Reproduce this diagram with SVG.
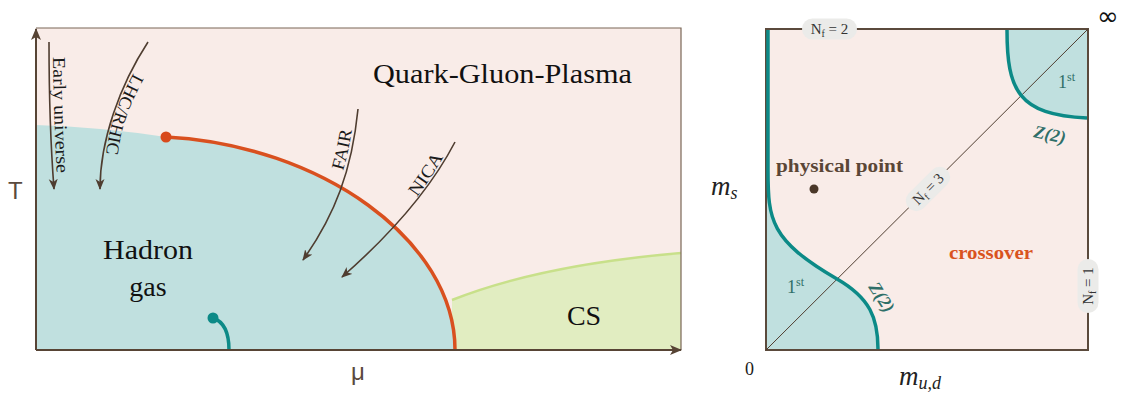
<svg xmlns="http://www.w3.org/2000/svg" width="1127" height="396" viewBox="0 0 1127 396">
<defs>
<style>
.lbl{font-family:"Liberation Serif","Times New Roman",serif;font-size:18px;fill:#1a1a1a;}
.big{font-family:"Liberation Serif","Times New Roman",serif;font-size:28px;fill:#111;}
.traj{fill:none;stroke:#4f3d30;stroke-width:1.6;marker-end:url(#ah);}
.axis{fill:none;stroke:#574435;stroke-width:2;marker-end:url(#ax);}
.pill{fill:#ebebe9;}
.nf{font-family:"Liberation Serif","Times New Roman",serif;font-size:15px;fill:#333;}
.sub{font-size:10px;}
.teal{fill:#c0e0df;}
.tealline{fill:none;stroke:#0c8a87;stroke-width:3.5;}
.tl{font-family:"Liberation Serif","Times New Roman",serif;fill:#2f6f68;}
.math{font-family:"Liberation Serif","Times New Roman",serif;font-style:italic;fill:#222;}
.sans{font-family:"Liberation Sans",Arial,sans-serif;fill:#5a4a3e;}
</style>
<marker id="ah" markerUnits="userSpaceOnUse" markerWidth="12" markerHeight="10" refX="10" refY="4.5" orient="auto"><path d="M0,0 L11,4.5 L0,9 L3,4.5 Z" fill="#4f3d30"/></marker>
<marker id="ax" markerUnits="userSpaceOnUse" markerWidth="13" markerHeight="11" refX="11" refY="5" orient="auto"><path d="M0,0 L12,5 L0,10 L3,5 Z" fill="#574435"/></marker>
<path id="pEU" d="M53,57 C53.5,100 55,140 57,180"/>
<path id="pLHC" d="M133.5,73 C120,98 108,125 105.5,160"/>
<path id="pFAIR" d="M343,171 Q349,150 352.5,126"/>
<path id="pNICA" d="M417,197 Q432,177 446,153"/>
</defs>

<g id="left-panel">
  <rect x="36" y="28" width="645" height="322" fill="#f9ece8"/>
  <path id="cs-region" d="M452,300 Q540,265 681,253 L681,350 L452,350 Z" fill="#e1edc1"/>
  <path id="hadron-region" class="teal" d="M36,125 Q100,127 166,137 C320,145 455,240 455,350 L36,350 Z"/>
  <path d="M452,300 Q540,265 681,253" fill="none" stroke="#c8e08a" stroke-width="2.5"/>
  <path d="M166,137 C320,145 455,240 455,350" fill="none" stroke="#d9501f" stroke-width="3.5"/>
  <circle cx="166" cy="137" r="5.5" fill="#d84a1c"/>
  <path d="M213,318 C225,322 229,335 229,350" class="tealline"/>
  <circle cx="213" cy="318" r="5.5" fill="#0c8a87"/>
  <path d="M36,28 L681,28 L681,350" fill="none" stroke="#7a6656" stroke-width="1.2"/>
  <line class="axis" x1="36" y1="350" x2="36" y2="29"/>
  <line class="axis" x1="36" y1="350" x2="681" y2="350"/>
  <text class="sans" x="8" y="199" font-size="24">T</text>
  <text class="sans" x="351" y="380" font-size="24">μ</text>
  <text class="big" x="373" y="83" textLength="259" lengthAdjust="spacingAndGlyphs">Quark-Gluon-Plasma</text>
  <text class="big" x="148" y="259" text-anchor="middle" textLength="90" lengthAdjust="spacingAndGlyphs">Hadron</text>
  <text class="big" x="148" y="296" text-anchor="middle">gas</text>
  <text class="big" x="584" y="325" text-anchor="middle">CS</text>
</g>

<g id="connectors">
  <path class="traj" d="M49,42 C49,100 51,150 54,189"/>
  <path class="traj" d="M148,42 C120,85 100,140 100,189"/>
  <path class="traj" d="M358,109 C352,170 335,215 303,260"/>
  <path class="traj" d="M455,142 C430,190 390,235 342,277"/>
</g>

<g id="trajectory-labels">
  <text class="lbl" textLength="116" lengthAdjust="spacingAndGlyphs"><textPath href="#pEU">Early universe</textPath></text>
  <text class="lbl" textLength="86" lengthAdjust="spacingAndGlyphs"><textPath href="#pLHC">LHC/RHIC</textPath></text>
  <text class="lbl" textLength="42" lengthAdjust="spacingAndGlyphs"><textPath href="#pFAIR">FAIR</textPath></text>
  <text class="lbl" textLength="48" lengthAdjust="spacingAndGlyphs"><textPath href="#pNICA">NICA</textPath></text>
</g>

<g id="right-panel">
  <rect x="766" y="29" width="322" height="321" fill="#f9ece8"/>
  <path id="first-order-heavy" class="teal" d="M1007,29 C1007,90 1018,115 1088,118 L1088,29 Z"/>
  <path id="first-order-light" class="teal" d="M766,29 L767.5,29 L767.5,170 C767.5,220 770,240 837,279 C870,298 878,318 878,350 L766,350 Z"/>
  <rect x="766" y="29" width="322" height="321" fill="none" stroke="#5b4a3c" stroke-width="2"/>
  <line x1="766" y1="350" x2="1088" y2="29" stroke="#4f3d30" stroke-width="1"/>
  <path class="tealline" d="M1007,30 C1007,90 1018,115 1087,118"/>
  <path class="tealline" d="M768,30 L768,170 C768,220 770,240 837,279 C870,298 878,318 878,349"/>
  <circle cx="814" cy="189" r="4.5" fill="#4a3728"/>
  <text class="lbl" x="776" y="172" font-size="20" font-weight="bold" style="fill:#5a4636" textLength="127" lengthAdjust="spacingAndGlyphs">physical point</text>
  <text class="lbl" x="949" y="259" font-size="20" font-weight="bold" style="fill:#d9531e" textLength="84" lengthAdjust="spacingAndGlyphs">crossover</text>
  <text class="tl" x="1058" y="88" font-size="18">1<tspan font-size="12" dy="-7">st</tspan></text>
  <text class="tl" x="787" y="293" font-size="18">1<tspan font-size="12" dy="-7">st</tspan></text>
  <text class="tl" font-size="18" font-weight="bold" font-style="italic" transform="translate(1033,137) rotate(12)">Z(2)</text>
  <text class="tl" font-size="18" font-weight="bold" font-style="italic" transform="translate(868,287) rotate(57)">Z(2)</text>
  <g id="nf2">
    <rect class="pill" x="802" y="18.5" width="55" height="21" rx="10.5"/>
    <text class="nf" x="829.5" y="34" text-anchor="middle">N<tspan class="sub" dy="3">f</tspan><tspan dy="-3"> = 2</tspan></text>
  </g>
  <g id="nf3" transform="translate(928,189) rotate(-45)">
    <rect class="pill" x="-27" y="-10.5" width="54" height="21" rx="10.5"/>
    <text class="nf" x="0" y="5" text-anchor="middle">N<tspan class="sub" dy="3">f</tspan><tspan dy="-3"> = 3</tspan></text>
  </g>
  <g id="nf1" transform="translate(1088,286) rotate(-90)">
    <rect class="pill" x="-27" y="-10.5" width="54" height="21" rx="10.5"/>
    <text class="nf" x="0" y="5" text-anchor="middle">N<tspan class="sub" dy="3">f</tspan><tspan dy="-3"> = 1</tspan></text>
  </g>
  <text class="math" x="711" y="195" font-size="27">m<tspan font-size="18" dy="4">s</tspan></text>
  <text class="math" x="899" y="385" font-size="27">m<tspan font-size="18" dy="4">u,d</tspan></text>
  <text class="lbl" x="745" y="375" font-size="18">0</text>
  <text x="1097" y="25" font-family="'DejaVu Sans',sans-serif" font-size="26" fill="#111">∞</text>
</g>
</svg>
